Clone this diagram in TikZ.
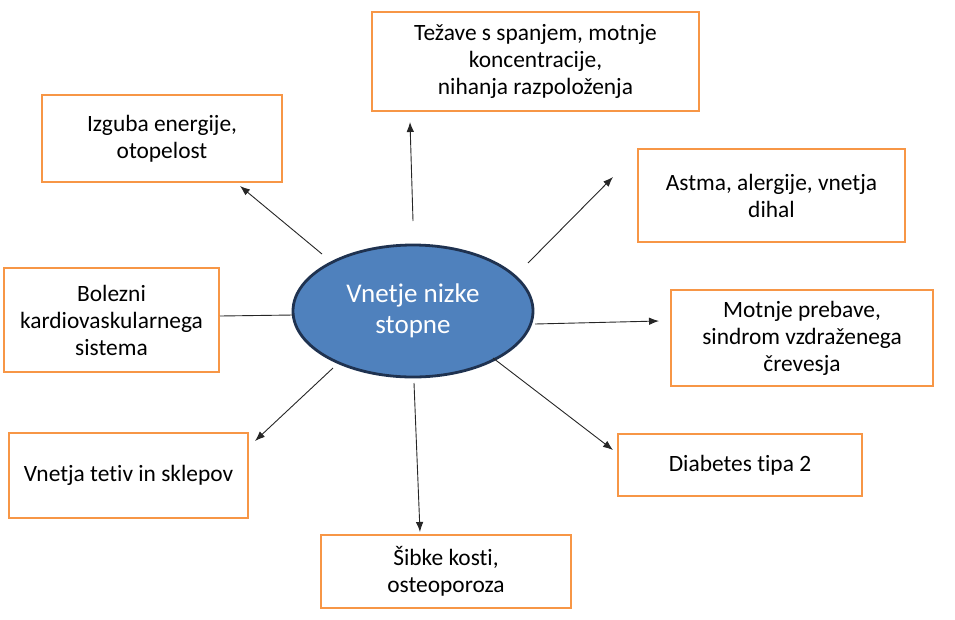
\documentclass[tikz,border=0pt]{standalone}
\usepackage{fontspec}
\setmainfont{Carlito}[Ligatures={NoCommon}]
\usetikzlibrary{shapes.geometric,arrows.meta}
\definecolor{boxorange}{HTML}{F79646}
\definecolor{ellfill}{HTML}{4F81BD}
\definecolor{elldraw}{HTML}{1F3250}
\tikzset{
  effectbox/.style={draw=boxorange, line width=2.8pt, fill=white, align=center, inner sep=0pt,
    font=\fontsize{23.4}{27}\selectfont, text=black},
  centre/.style={ellipse, draw=elldraw, line width=2.8pt, fill=ellfill, align=center, inner sep=0pt,
    minimum width=240pt, minimum height=132pt, text=white, font=\fontsize{27}{31}\selectfont},
  link/.style={line width=0.9pt, draw=black!85},
  arrowlink/.style={link, -{Latex[length=10pt,width=7.5pt]}}
}
\begin{document}
\begin{tikzpicture}[x=1pt,y=-1pt]
\useasboundingbox (0,0) rectangle (955,619);
\node[centre] (c) at (413,311) {Vnetje nizke\\stopne};
\node[effectbox, minimum width=327pt, minimum height=99pt] (b1) at (535.5,61.5) {Težave s spanjem, motnje\\koncentracije,\\nihanja razpoloženja};
\node[effectbox, minimum width=240pt, minimum height=87pt] (b2) at (162,138.5) {Izguba energije,\\otopelost};
\node[effectbox, minimum width=267pt, minimum height=93pt] (b3) at (771.5,195.5) {Astma, alergije, vnetja\\dihal};
\node[effectbox, minimum width=215pt, minimum height=104pt] (b4) at (111.5,320) {Bolezni\\kardiovaskularnega\\sistema};
\node[effectbox, minimum width=262pt, minimum height=96pt] (b5) at (802,338) {Motnje prebave,\\sindrom vzdraženega\\črevesja};
\node[effectbox, minimum width=239pt, minimum height=85pt] (b6) at (128.5,475.5) {Vnetja tetiv in sklepov};
\node[effectbox, minimum width=244pt, minimum height=62pt] (b7) at (740,465) {Diabetes tipa 2};
\node[effectbox, minimum width=250pt, minimum height=73pt] (b8) at (446,571.5) {Šibke kosti,\\osteoporoza};
% connector end points
\coordinate (s1) at (413,221); \coordinate (e1) at (410,122);
\coordinate (s2) at (322,254); \coordinate (e2) at (240,186);
\coordinate (s3) at (528,263); \coordinate (e3) at (613,177);
\coordinate (s4) at (293,315); \coordinate (e4) at (220,316);
\coordinate (s5) at (535,324); \coordinate (e5) at (659,321);
\coordinate (s6) at (333,368); \coordinate (e6) at (255,441);
\coordinate (s7) at (493,358); \coordinate (e7) at (613,450);
\coordinate (s8) at (414,383); \coordinate (e8) at (420,532);
\draw[arrowlink] (s1) -- (e1);
\draw[arrowlink] (s2) -- (e2);
\draw[arrowlink] (s3) -- (e3);
\draw[link] (s4) -- (e4);
\draw[arrowlink] (s5) -- (e5);
\draw[arrowlink] (s6) -- (e6);
\draw[arrowlink] (s7) -- (e7);
\draw[arrowlink] (s8) -- (e8);
\end{tikzpicture}
\end{document}
